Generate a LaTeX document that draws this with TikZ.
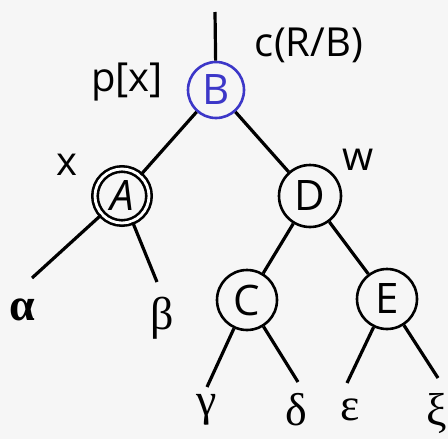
\documentclass[tikz,border=0pt]{standalone}
\usepackage{fontspec}
\setmainfont{Open Sans}
\newfontfamily\greekfont{Liberation Serif}
\definecolor{bgc}{RGB}{246,246,246}
\definecolor{bblue}{RGB}{60,55,200}
\begin{document}
\begin{tikzpicture}[x=0.5pt,y=-0.5pt,
  tn/.style={circle,draw,line width=1.3pt,minimum size=30pt,inner sep=0pt,font=\fontsize{21}{22}\selectfont},
  edge/.style={line width=1.6pt},
  lbl/.style={font=\fontsize{20}{22}\selectfont,inner sep=0pt},
  gk/.style={font=\greekfont\fontsize{23}{24}\selectfont,inner sep=0pt}]
\fill[bgc] (0,0) rectangle (448,439);
\useasboundingbox (0,0) rectangle (448,439);
% nodes
\node[tn,draw=bblue,text=bblue,minimum size=28pt] (B) at (216,90) {B};
\node[tn,double,double distance=1.4pt,minimum size=27pt] (A) at (122,196) {\itshape A};
\node[tn,minimum size=31pt] (D) at (310,196) {D};
\node[tn,minimum size=30pt] (C) at (247,300) {C};
\node[tn,minimum size=30pt] (E) at (387,299) {E};
% free ends
\coordinate (top) at (215,12);
\coordinate (la) at (32,278);
\coordinate (lb) at (157,282);
\coordinate (lg) at (207,387);
\coordinate (ld) at (298,382);
\coordinate (le) at (347,383);
\coordinate (lx) at (438,378);
% edges
\draw[edge] (top) -- (B);
\draw[edge] (B) -- (A);
\draw[edge] (B) -- (D);
\draw[edge] (A) -- (la);
\draw[edge] (A) -- (lb);
\draw[edge] (D) -- (C);
\draw[edge] (D) -- (E);
\draw[edge] (C) -- (lg);
\draw[edge] (C) -- (ld);
\draw[edge] (E) -- (le);
\draw[edge] (E) -- (lx);
% labels
\node[lbl] (cRB) at (309,45) {c(R/B)};
\node[lbl] (px) at (127,82) {p[x]};
\node[lbl] (xl) at (67,165) {x};
\node[lbl] (wl) at (358,160) {w};
\node[gk,font=\greekfont\bfseries\fontsize{23}{24}\selectfont] (alpha) at (22,310) {α};
\node[gk] (beta) at (162,318) {β};
\node[gk] (gamma) at (207,410) {γ};
\node[gk] (delta) at (296,410) {δ};
\node[gk] (eps) at (350,410) {ε};
\node[gk] (xi) at (437,413) {ξ};
\end{tikzpicture}
\end{document}
